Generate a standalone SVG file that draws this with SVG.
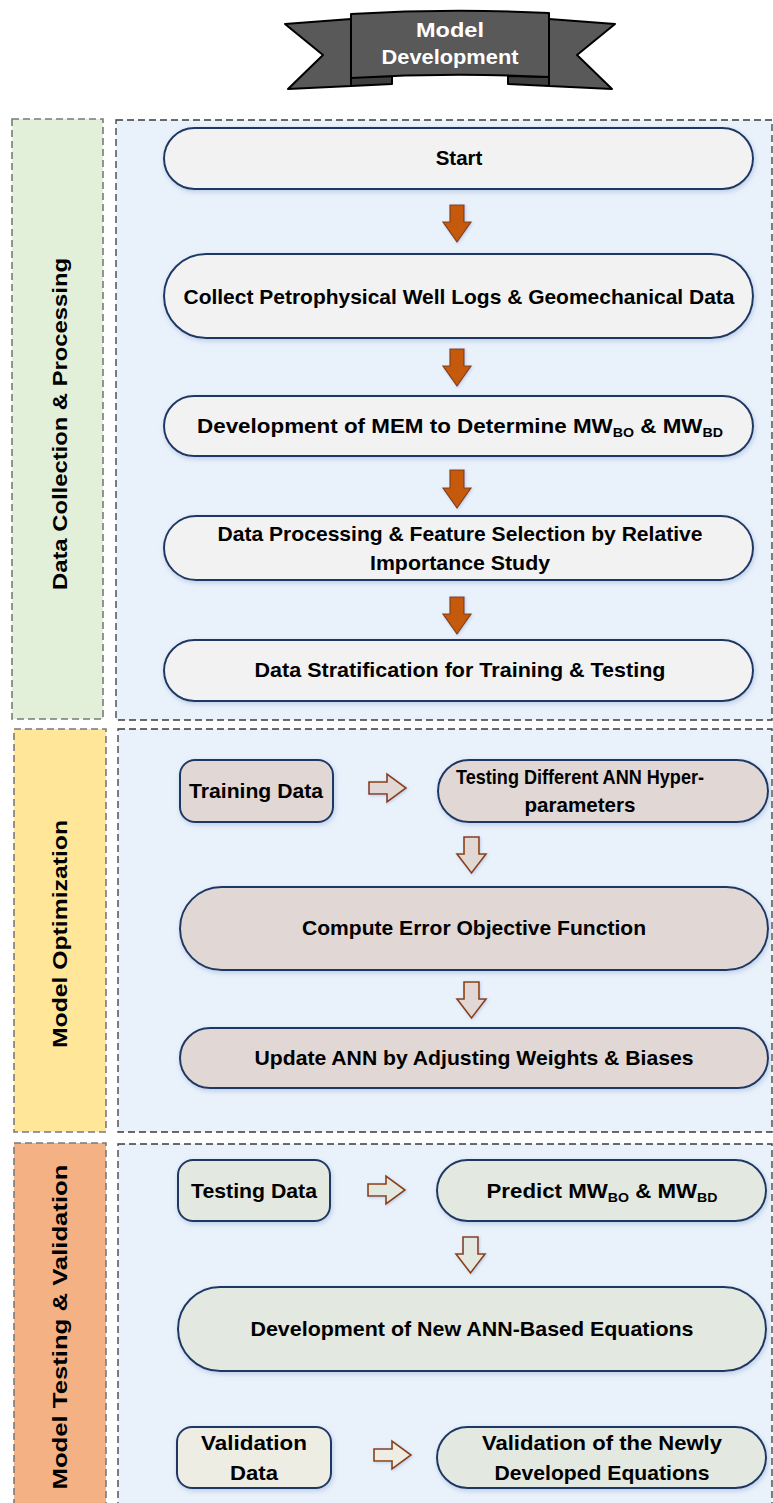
<svg xmlns="http://www.w3.org/2000/svg" width="773" height="1503" viewBox="0 0 773 1503">
<defs>
<style>
.lbl{font-family:"Liberation Sans",Arial,sans-serif;font-weight:bold;font-size:20.5px;fill:#000;text-anchor:middle}
.sec{font-family:"Liberation Sans",Arial,sans-serif;font-weight:bold;font-size:21px;fill:#000;text-anchor:middle}
.ban{font-family:"Liberation Sans",Arial,sans-serif;font-weight:bold;font-size:20px;fill:#fff;text-anchor:middle}
.node{stroke:#1F3864;stroke-width:2;filter:url(#sh)}
.n1{fill:#F2F2F2}
.n2{fill:#E1D8D5}
.n3{fill:#E3E8E0}
.n4{fill:#EEEDE3}
.bg{fill:#E9F1FB;stroke:#3A3A3A;stroke-width:1.3;stroke-dasharray:7 4}
.side{stroke:#7A7A7A;stroke-width:1.6;stroke-dasharray:7 4}
.oa{fill:#C55A11;stroke:#843C0C;stroke-width:1.2;filter:url(#sh2)}
.ha{stroke:#8B3E0E;stroke-width:1.6;filter:url(#sh2)}
</style>
<filter id="sh" x="-10%" y="-30%" width="120%" height="160%">
<feDropShadow dx="1" dy="2" stdDeviation="2.5" flood-color="#9DB6DA" flood-opacity="0.6"/>
</filter>
<filter id="sh2" x="-50%" y="-50%" width="200%" height="200%">
<feDropShadow dx="1" dy="1" stdDeviation="1.5" flood-color="#9DB6DA" flood-opacity="0.6"/>
</filter>
</defs>
<rect width="773" height="1503" fill="#fff"/>

<g id="banner">
<polygon points="285,24 351,19 351,86 288,89 323,55" fill="#595959" stroke="#000" stroke-width="2" stroke-linejoin="round"/>
<polygon points="615,24 549,19 549,86 612,89 577,55" fill="#595959" stroke="#000" stroke-width="2" stroke-linejoin="round"/>
<polygon points="351,77 392,76 392,84 351,86" fill="#3F3F3F" stroke="#000" stroke-width="2" stroke-linejoin="round"/>
<polygon points="549,77 508,76 508,84 549,86" fill="#3F3F3F" stroke="#000" stroke-width="2" stroke-linejoin="round"/>
<path d="M351,14 Q450,8 549,13 L549,77 Q450,72 351,78 Z" fill="#595959" stroke="#000" stroke-width="2" stroke-linejoin="round"/>
<text class="ban" x="450" y="37" textLength="68" lengthAdjust="spacingAndGlyphs">Model</text>
<text class="ban" x="450" y="64" textLength="137" lengthAdjust="spacingAndGlyphs">Development</text>
</g>

<g id="sections">
<rect class="side" x="12" y="119" width="91" height="600" fill="#E2EFD9"/>
<rect class="bg" x="116" y="120" width="656" height="600"/>
<rect class="side" x="14" y="729" width="92" height="403" fill="#FFE699"/>
<rect class="bg" x="118" y="729" width="654" height="403"/>
<rect class="side" x="14" y="1143" width="92" height="370" fill="#F4B183"/>
<rect class="bg" x="118" y="1144" width="654" height="370"/>
<text class="sec" transform="translate(60,424) rotate(-90)" dy="7" textLength="332" lengthAdjust="spacingAndGlyphs">Data Collection &amp; Processing</text>
<text class="sec" transform="translate(60,934) rotate(-90)" dy="7" textLength="228" lengthAdjust="spacingAndGlyphs">Model Optimization</text>
<text class="sec" transform="translate(60,1327) rotate(-90)" dy="7" textLength="325" lengthAdjust="spacingAndGlyphs">Model Testing &amp; Validation</text>
</g>

<g id="connectors">
<path class="oa" d="M450,205 h14 v17 h7 l-14,20 l-14,-20 h7 z"/>
<path class="oa" d="M450,349 h14 v17 h7 l-14,20 l-14,-20 h7 z"/>
<path class="oa" d="M450,470 h14 v18 h7 l-14,20 l-14,-20 h7 z"/>
<path class="oa" d="M450,597 h14 v17 h7 l-14,20 l-14,-20 h7 z"/>
<path class="ha" fill="#E1D8D5" d="M369,782 h18 v-8 l19,14 l-19,14 v-8 h-18 z"/>
<path class="ha" fill="#E1D8D5" d="M464,837 h15 v17 h7 l-14.5,19 l-14.5,-19 h7 z"/>
<path class="ha" fill="#E1D8D5" d="M464,982 h15 v17 h7 l-14.5,19 l-14.5,-19 h7 z"/>
<path class="ha" fill="#E3E8E0" d="M368,1184 h18 v-8 l19,14 l-19,14 v-8 h-18 z"/>
<path class="ha" fill="#E3E8E0" d="M463,1237 h15 v17 h7 l-14.5,19 l-14.5,-19 h7 z"/>
<path class="ha" fill="#EEEDE3" d="M374,1449 h18 v-8 l19,14 l-19,14 v-8 h-18 z"/>
</g>

<g id="start">
<rect class="node n1" x="164" y="128" width="589" height="61" rx="30.5"/>
<text class="lbl" x="459" y="165">Start</text>
</g>
<g id="collect">
<rect class="node n1" x="164" y="254" width="589" height="84" rx="42"/>
<text class="lbl" x="459" y="304" textLength="551" lengthAdjust="spacingAndGlyphs">Collect Petrophysical Well Logs &amp; Geomechanical Data</text>
</g>
<g id="mem">
<rect class="node n1" x="164" y="396" width="589" height="60" rx="30"/>
<text class="lbl" x="460" y="433" textLength="526" lengthAdjust="spacingAndGlyphs">Development of MEM to Determine MW<tspan font-size="13" dy="4">BO</tspan><tspan dy="-4"> &amp; MW</tspan><tspan font-size="13" dy="4">BD</tspan></text>
</g>
<g id="processing">
<rect class="node n1" x="164" y="516" width="589" height="64" rx="32"/>
<text class="lbl" x="460" y="541" textLength="485" lengthAdjust="spacingAndGlyphs">Data Processing &amp; Feature Selection by Relative</text>
<text class="lbl" x="460" y="570" textLength="180" lengthAdjust="spacingAndGlyphs">Importance Study</text>
</g>
<g id="stratification">
<rect class="node n1" x="164" y="640" width="589" height="61" rx="30.5"/>
<text class="lbl" x="460" y="677" textLength="411" lengthAdjust="spacingAndGlyphs">Data Stratification for Training &amp; Testing</text>
</g>

<g id="training">
<rect class="node n2" x="180" y="760" width="153" height="62" rx="15"/>
<text class="lbl" x="256" y="798" textLength="134" lengthAdjust="spacingAndGlyphs">Training Data</text>
</g>
<g id="hyper">
<rect class="node n2" x="438" y="760" width="330" height="62" rx="31"/>
<text class="lbl" x="580" y="784" textLength="248" lengthAdjust="spacingAndGlyphs">Testing Different ANN Hyper-</text>
<text class="lbl" x="580" y="812" textLength="111" lengthAdjust="spacingAndGlyphs">parameters</text>
</g>
<g id="compute">
<rect class="node n2" x="180" y="887" width="588" height="83" rx="41.5"/>
<text class="lbl" x="474" y="935" textLength="344" lengthAdjust="spacingAndGlyphs">Compute Error Objective Function</text>
</g>
<g id="update">
<rect class="node n2" x="180" y="1028" width="588" height="60" rx="30"/>
<text class="lbl" x="474" y="1065" textLength="439" lengthAdjust="spacingAndGlyphs">Update ANN by Adjusting Weights &amp; Biases</text>
</g>

<g id="testing">
<rect class="node n3" x="178" y="1160" width="152" height="61" rx="15"/>
<text class="lbl" x="254" y="1198" textLength="126" lengthAdjust="spacingAndGlyphs">Testing Data</text>
</g>
<g id="predict">
<rect class="node n3" x="437" y="1160" width="329" height="61" rx="30.5"/>
<text class="lbl" x="602" y="1198" textLength="231" lengthAdjust="spacingAndGlyphs">Predict MW<tspan font-size="13" dy="4">BO</tspan><tspan dy="-4"> &amp; MW</tspan><tspan font-size="13" dy="4">BD</tspan></text>
</g>
<g id="equations">
<rect class="node n3" x="178" y="1287" width="588" height="84" rx="42"/>
<text class="lbl" x="472" y="1336" textLength="443" lengthAdjust="spacingAndGlyphs">Development of New ANN-Based Equations</text>
</g>
<g id="validation">
<rect class="node n4" x="177" y="1427" width="154" height="61" rx="15"/>
<text class="lbl" x="254" y="1450" textLength="106" lengthAdjust="spacingAndGlyphs">Validation</text>
<text class="lbl" x="254" y="1480" textLength="48" lengthAdjust="spacingAndGlyphs">Data</text>
</g>
<g id="validate-eq">
<rect class="node n3" x="437" y="1427" width="329" height="61" rx="30.5"/>
<text class="lbl" x="602" y="1450" textLength="240" lengthAdjust="spacingAndGlyphs">Validation of the Newly</text>
<text class="lbl" x="602" y="1480" textLength="215" lengthAdjust="spacingAndGlyphs">Developed Equations</text>
</g>
</svg>
